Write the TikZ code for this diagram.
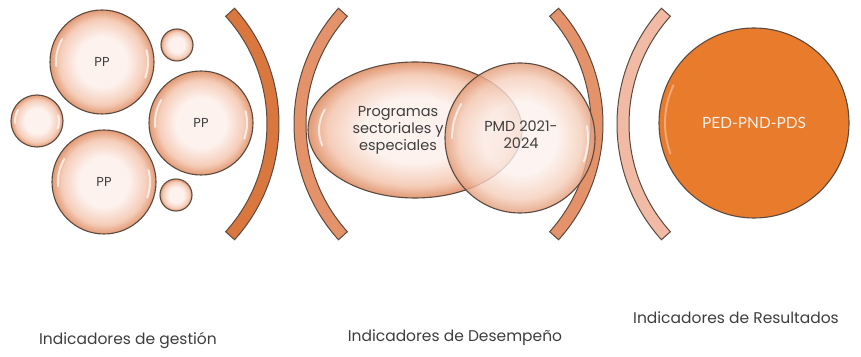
\documentclass[tikz,border=0pt]{standalone}
\usepackage{fontspec}
\setmainfont{Poppins}
\newfontfamily\gillfont{Lato}
\usetikzlibrary{calc,shapes.geometric}
\definecolor{bubin}{HTML}{FDF2EE}
\definecolor{bubmid}{HTML}{F5CDB9}
\definecolor{bubout}{HTML}{E29A75}
\definecolor{edgegray}{HTML}{5C4A40}
\definecolor{brkA}{HTML}{D9773F}
\definecolor{brkB}{HTML}{E3926A}
\definecolor{brkC}{HTML}{F0BAA4}
\definecolor{pedorange}{HTML}{E97B2D}
\definecolor{txtgray}{HTML}{3E3E3E}
\pgfdeclareradialshading{bubble}{\pgfpoint{0bp}{0bp}}{color(0bp)=(bubin); color(12bp)=(bubin); color(20.5bp)=(bubmid); color(25bp)=(bubout); color(50bp)=(bubout)}
\newcommand\brkarc[5]{%
  \filldraw[fill=#5, draw=edgegray, line width=1pt]
    ($(#1,#2)+(#3:173)$) arc[start angle=#3, end angle=#4, radius=173]
    -- ($(#1,#2)+(#4:161)$) arc[start angle=#4, end angle=#3, radius=161] -- cycle;}
\tikzset{
  bubblenode/.style={circle, inner sep=0pt, shading=bubble, draw=edgegray, line width=1.1pt, text=txtgray, font=\fontsize{13}{15}\selectfont},
  shine/.style={white, line width=2pt, opacity=0.7, line cap=round},
  label/.style={text=txtgray, font=\fontsize{15.5}{18}\selectfont, inner sep=0pt},
  midtext/.style={align=center, text=txtgray, font=\fontsize{14.5}{17}\selectfont, inner sep=0pt}
}
\begin{document}
\begin{tikzpicture}[x=1pt,y=1pt]
\path[use as bounding box, fill=white] (0,0) rectangle (861,356);
% brackets
\brkarc{106}{232}{-42}{42}{brkA}
\brkarc{467}{232}{138}{222}{brkB}
\brkarc{430}{232}{-42}{42}{brkB}
\brkarc{790}{232}{138}{222}{brkC}
% bubbles of left group
\node[bubblenode, minimum size=104pt] (pp1) at (102,294) {PP};
\node[bubblenode, minimum size=32pt] (s1) at (177,311) {};
\node[bubblenode, minimum size=52pt] (s2) at (37,235) {};
\node[bubblenode, minimum size=104pt] (pp2) at (201,233) {PP};
\node[bubblenode, minimum size=104pt] (pp3) at (104,174) {PP};
\node[bubblenode, minimum size=32pt] (s3) at (176,161) {};
\foreach \n/\r in {pp1/46,pp2/46,pp3/46,s2/22} {
  \draw[shine] ($(\n)+(150:\r)$) arc[start angle=150, end angle=185, radius=\r];
  \draw[shine] ($(\n)+(-20:\r)$) arc[start angle=-20, end angle=15, radius=\r];
}
% middle group
\node[ellipse, inner sep=0pt, minimum width=214pt, minimum height=136pt, shading=bubble, draw=edgegray, line width=1.1pt] (prog) at (415,226) {};
\node[midtext] (progtxt) at (398,226) {Programas\\sectoriales y\\especiales};
\node[circle, inner sep=0pt, minimum size=150pt, shading=bubble, fill opacity=0.8, draw=edgegray, line width=1.1pt] (pmd) at (520,218) {};
\node[midtext] (pmdtxt) at (521,221) {PMD 2021-\\2024};
\draw[shine] ($(prog)+(160:96 and 60)$) arc[start angle=160, end angle=195, x radius=96, y radius=60];
\draw[shine] ($(pmd)+(150:68)$) arc[start angle=150, end angle=180, radius=68];
\draw[shine] ($(pmd)+(-20:68)$) arc[start angle=-20, end angle=10, radius=68];
% right circle
\node[circle, inner sep=0pt, minimum size=190pt, fill=pedorange, draw=edgegray, line width=1.1pt, text=white!88!pedorange, font=\gillfont\fontsize{15.5}{18}\selectfont] (ped) at (754,233) {PED-PND-PDS};
\draw[shine, opacity=0.35] ($(ped)+(155:89)$) arc[start angle=155, end angle=200, radius=89];
% labels
\node[label] (l1) at (128,16) {Indicadores de gestión};
\node[label] (l2) at (455,18) {Indicadores de Desempeño};
\node[label] (l3) at (736,38) {Indicadores de Resultados};
\end{tikzpicture}
\end{document}
